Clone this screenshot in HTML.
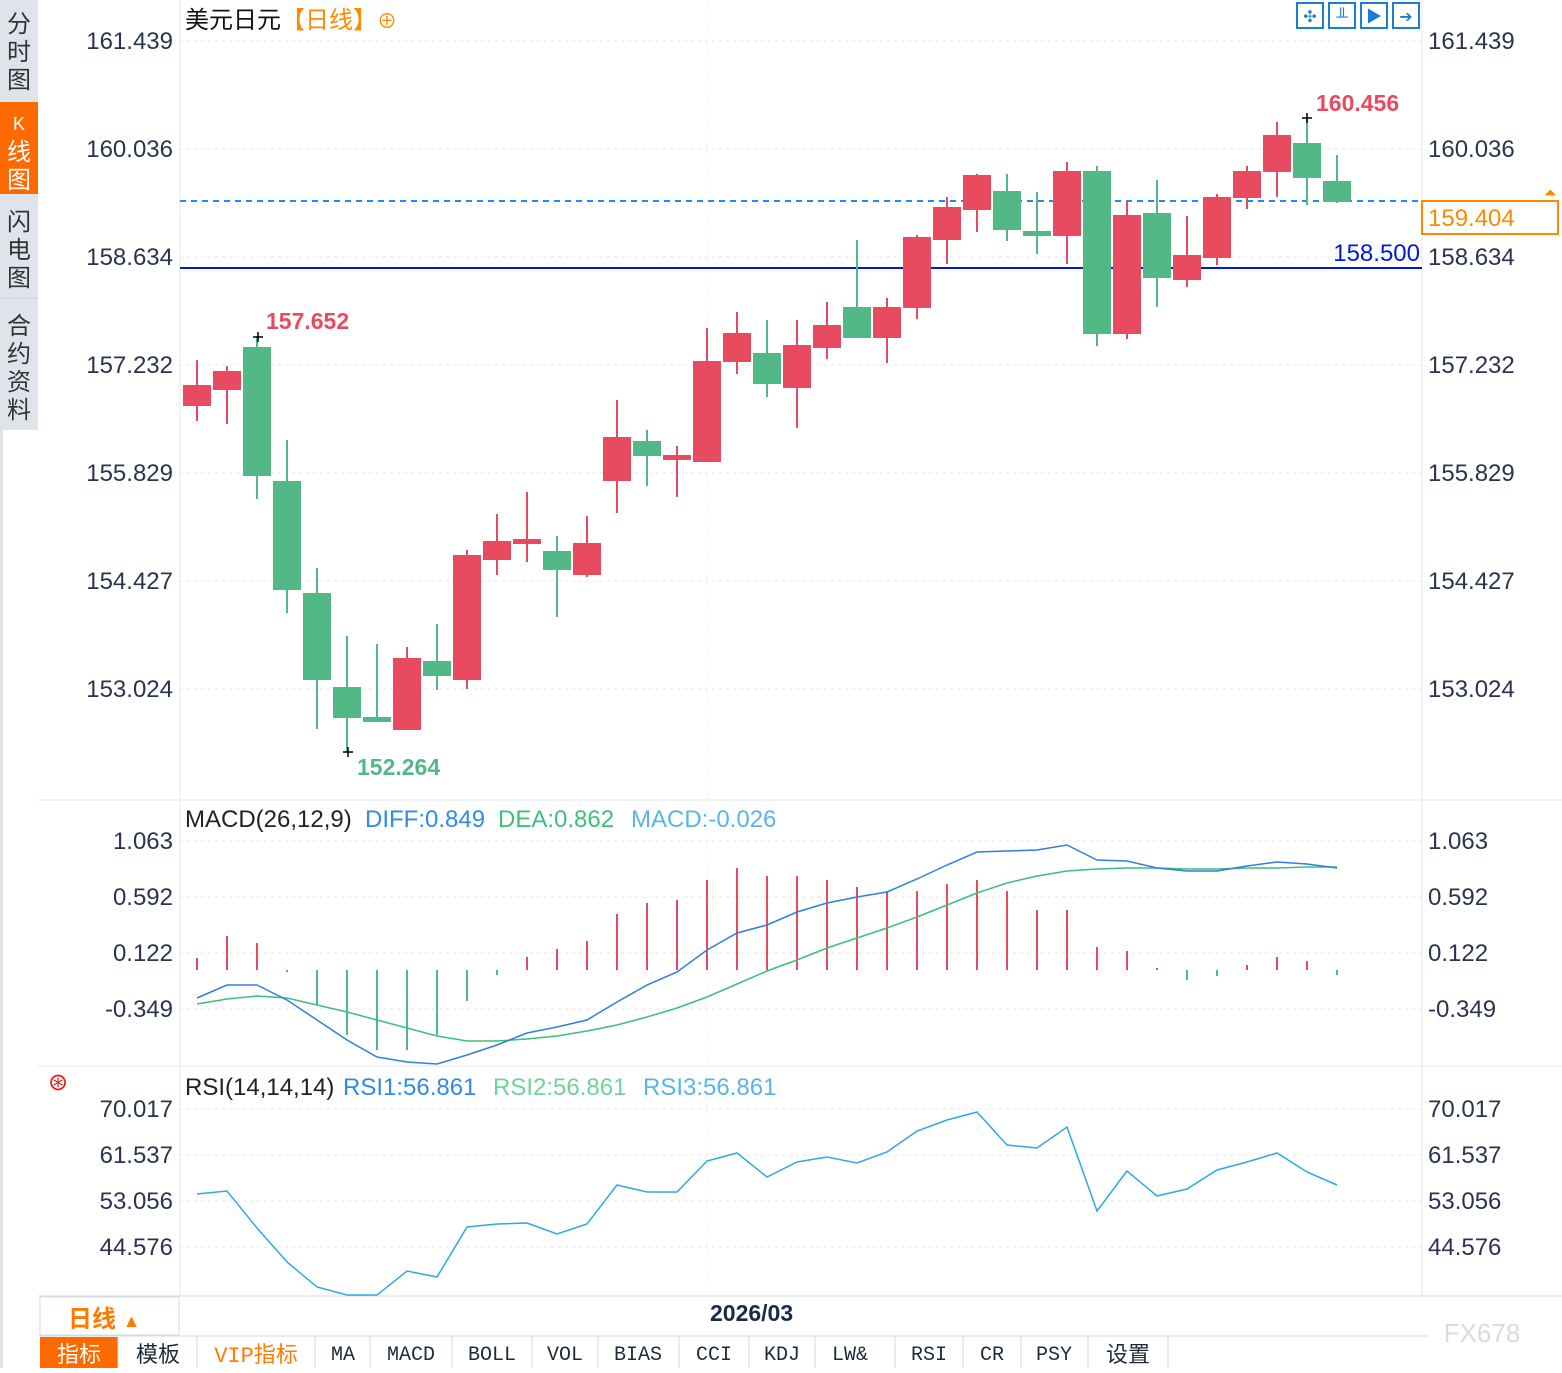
<!DOCTYPE html>
<html><head><meta charset="utf-8"><style>
body{margin:0;background:#fff;width:1562px;height:1368px;overflow:hidden;font-family:"Liberation Sans","Noto Sans CJK SC",sans-serif}
</style></head><body>
<svg width="1562" height="1368" xmlns="http://www.w3.org/2000/svg" font-family="Liberation Sans, Noto Sans CJK SC, sans-serif">
<rect x="0" y="0" width="38" height="1368" fill="#dfe3ea"/>
<rect x="3" y="430" width="35" height="938" fill="#fff"/>
<rect x="0" y="102" width="38" height="92" fill="#ff6a00"/>
<line x1="0" y1="298" x2="38" y2="298" stroke="#c8ced8"/>
<g font-size="24" fill="#333" text-anchor="middle">
<text x="19" y="32">分</text><text x="19" y="60">时</text><text x="19" y="88">图</text>
<text x="19" y="130" fill="#fff" font-size="18">K</text><text x="19" y="160" fill="#fff">线</text><text x="19" y="188" fill="#fff">图</text>
<text x="19" y="230">闪</text><text x="19" y="258">电</text><text x="19" y="286">图</text>
<text x="19" y="334">合</text><text x="19" y="362">约</text><text x="19" y="390">资</text><text x="19" y="418">料</text>
</g>
<line x1="38" y1="800" x2="1562" y2="800" stroke="#e3e7ee"/>
<line x1="38" y1="1066" x2="1562" y2="1066" stroke="#e3e7ee"/>
<line x1="38" y1="1296" x2="1562" y2="1296" stroke="#d5dae2"/>
<line x1="180" y1="0" x2="180" y2="1296" stroke="#e3e7ee"/>
<line x1="1422" y1="0" x2="1422" y2="1296" stroke="#e3e7ee"/>
<line x1="707" y1="0" x2="707" y2="1296" stroke="#eef0f4" stroke-dasharray="3,3"/>
<g stroke="#e3e6ea" stroke-dasharray="3,4">
<line x1="180" y1="41" x2="1422" y2="41"/><line x1="180" y1="149" x2="1422" y2="149"/><line x1="180" y1="257" x2="1422" y2="257"/><line x1="180" y1="365" x2="1422" y2="365"/><line x1="180" y1="473" x2="1422" y2="473"/><line x1="180" y1="581" x2="1422" y2="581"/><line x1="180" y1="689" x2="1422" y2="689"/>
<line x1="180" y1="841" x2="1422" y2="841"/><line x1="180" y1="897" x2="1422" y2="897"/><line x1="180" y1="953" x2="1422" y2="953"/><line x1="180" y1="1009" x2="1422" y2="1009"/>
<line x1="180" y1="1109" x2="1422" y2="1109"/><line x1="180" y1="1155" x2="1422" y2="1155"/><line x1="180" y1="1201" x2="1422" y2="1201"/><line x1="180" y1="1247" x2="1422" y2="1247"/>
</g>
<g font-size="24" fill="#2a3450" text-anchor="end">
<text x="173" y="49">161.439</text><text x="173" y="157">160.036</text><text x="173" y="265">158.634</text><text x="173" y="373">157.232</text><text x="173" y="481">155.829</text><text x="173" y="589">154.427</text><text x="173" y="697">153.024</text>
<text x="173" y="849">1.063</text><text x="173" y="905">0.592</text><text x="173" y="961">0.122</text><text x="173" y="1017">-0.349</text>
<text x="173" y="1117">70.017</text><text x="173" y="1163">61.537</text><text x="173" y="1209">53.056</text><text x="173" y="1255">44.576</text>
</g>
<g font-size="24" fill="#2a3450">
<text x="1428" y="49">161.439</text><text x="1428" y="157">160.036</text><text x="1428" y="265">158.634</text><text x="1428" y="373">157.232</text><text x="1428" y="481">155.829</text><text x="1428" y="589">154.427</text><text x="1428" y="697">153.024</text>
<text x="1428" y="849">1.063</text><text x="1428" y="905">0.592</text><text x="1428" y="961">0.122</text><text x="1428" y="1017">-0.349</text>
<text x="1428" y="1117">70.017</text><text x="1428" y="1163">61.537</text><text x="1428" y="1209">53.056</text><text x="1428" y="1255">44.576</text>
</g>
<text x="185" y="28" font-size="24" fill="#111">美元日元<tspan fill="#ff8a00">【日线】</tspan><tspan fill="#ff8a00" font-size="20">⊕</tspan></text>
<g fill="none" stroke="#1a7fd0" stroke-width="2">
<rect x="1297" y="3" width="26" height="25"/><rect x="1329" y="3" width="26" height="25"/><rect x="1361" y="3" width="26" height="25"/><rect x="1393" y="3" width="26" height="25"/>
</g>
<g fill="#1a7fd0" font-size="16" text-anchor="middle"><text x="1310" y="22">✣</text><text x="1342" y="22">╨</text><text x="1374" y="22">▶</text><text x="1406" y="22">➔</text></g>
<line x1="180" y1="201" x2="1422" y2="201" stroke="#1a8cff" stroke-width="2" stroke-dasharray="6,5"/>
<line x1="180" y1="268" x2="1422" y2="268" stroke="#0018e0" stroke-width="2"/>
<text x="1420" y="261" font-size="24" fill="#0018e0" text-anchor="end">158.500</text>
<rect x="1422" y="201" width="136" height="33" fill="#fff" stroke="#ff8a00" stroke-width="2"/>
<text x="1428" y="226" font-size="24" fill="#ff8a00">159.404</text>
<text x="1550" y="198" font-size="16" fill="#ff8a00" text-anchor="middle">⏶</text>
<g stroke-width="2">
<g stroke="#e84a5f" fill="#e84a5f">
<line x1="197" y1="360" x2="197" y2="421"/><rect x="184" y="386" width="26" height="19"/>
<line x1="227" y1="366" x2="227" y2="424"/><rect x="214" y="372" width="26" height="17"/>
<line x1="407" y1="647" x2="407" y2="729"/><rect x="394" y="659" width="26" height="70"/>
<line x1="467" y1="550" x2="467" y2="689"/><rect x="454" y="556" width="26" height="123"/>
<line x1="497" y1="514" x2="497" y2="575"/><rect x="484" y="542" width="26" height="17"/>
<line x1="527" y1="492" x2="527" y2="562"/><rect x="514" y="540" width="26" height="3"/>
<line x1="587" y1="516" x2="587" y2="577"/><rect x="574" y="544" width="26" height="30"/>
<line x1="617" y1="400" x2="617" y2="513"/><rect x="604" y="438" width="26" height="42"/>
<line x1="677" y1="446" x2="677" y2="497"/><rect x="664" y="456" width="26" height="3"/>
<line x1="707" y1="328" x2="707" y2="462"/><rect x="694" y="362" width="26" height="99"/>
<line x1="737" y1="312" x2="737" y2="374"/><rect x="724" y="334" width="26" height="27"/>
<line x1="797" y1="320" x2="797" y2="428"/><rect x="784" y="346" width="26" height="41"/>
<line x1="827" y1="302" x2="827" y2="359"/><rect x="814" y="326" width="26" height="21"/>
<line x1="887" y1="298" x2="887" y2="363"/><rect x="874" y="308" width="26" height="29"/>
<line x1="917" y1="235" x2="917" y2="319"/><rect x="904" y="238" width="26" height="69"/>
<line x1="947" y1="197" x2="947" y2="264"/><rect x="934" y="208" width="26" height="31"/>
<line x1="977" y1="174" x2="977" y2="232"/><rect x="964" y="176" width="26" height="33"/>
<line x1="1067" y1="162" x2="1067" y2="264"/><rect x="1054" y="172" width="26" height="63"/>
<line x1="1127" y1="202" x2="1127" y2="339"/><rect x="1114" y="216" width="26" height="117"/>
<line x1="1187" y1="216" x2="1187" y2="287"/><rect x="1174" y="256" width="26" height="23"/>
<line x1="1217" y1="194" x2="1217" y2="265"/><rect x="1204" y="198" width="26" height="59"/>
<line x1="1247" y1="166" x2="1247" y2="209"/><rect x="1234" y="172" width="26" height="25"/>
<line x1="1277" y1="122" x2="1277" y2="197"/><rect x="1264" y="136" width="26" height="35"/>
</g>
<g stroke="#52b986" fill="#52b986">
<line x1="257" y1="336" x2="257" y2="499"/><rect x="244" y="348" width="26" height="127"/>
<line x1="287" y1="440" x2="287" y2="613"/><rect x="274" y="482" width="26" height="107"/>
<line x1="317" y1="568" x2="317" y2="729"/><rect x="304" y="594" width="26" height="85"/>
<line x1="347" y1="636" x2="347" y2="752"/><rect x="334" y="688" width="26" height="29"/>
<line x1="377" y1="644" x2="377" y2="722"/><rect x="364" y="718" width="26" height="3"/>
<line x1="437" y1="624" x2="437" y2="690"/><rect x="424" y="662" width="26" height="13"/>
<line x1="557" y1="536" x2="557" y2="617"/><rect x="544" y="552" width="26" height="17"/>
<line x1="647" y1="430" x2="647" y2="486"/><rect x="634" y="442" width="26" height="13"/>
<line x1="767" y1="320" x2="767" y2="397"/><rect x="754" y="354" width="26" height="29"/>
<line x1="857" y1="240" x2="857" y2="337"/><rect x="844" y="308" width="26" height="29"/>
<line x1="1007" y1="174" x2="1007" y2="241"/><rect x="994" y="192" width="26" height="37"/>
<line x1="1037" y1="192" x2="1037" y2="254"/><rect x="1024" y="232" width="26" height="3"/>
<line x1="1097" y1="166" x2="1097" y2="346"/><rect x="1084" y="172" width="26" height="161"/>
<line x1="1157" y1="180" x2="1157" y2="307"/><rect x="1144" y="214" width="26" height="63"/>
<line x1="1307" y1="118" x2="1307" y2="205"/><rect x="1294" y="144" width="26" height="33"/>
<line x1="1337" y1="155" x2="1337" y2="203"/><rect x="1324" y="182" width="26" height="19"/>
</g>
</g>
<g stroke="#000" stroke-width="1.5"><line x1="253" y1="337" x2="263" y2="337"/><line x1="258" y1="332" x2="258" y2="342"/><line x1="343" y1="752" x2="353" y2="752"/><line x1="348" y1="747" x2="348" y2="757"/><line x1="1302" y1="118" x2="1312" y2="118"/><line x1="1307" y1="113" x2="1307" y2="123"/></g>
<g font-size="23" font-weight="bold"><text x="266" y="329" fill="#e84a5f">157.652</text><text x="357" y="775" fill="#52b986">152.264</text><text x="1316" y="111" fill="#e84a5f">160.456</text></g>
<text x="185" y="827" font-size="24" fill="#222" xml:space="preserve">MACD(26,12,9) <tspan x="365" fill="#2e8be6">DIFF:0.849</tspan><tspan x="498" fill="#3cbf7a">DEA:0.862</tspan><tspan x="631" fill="#5ab4ea">MACD:-0.026</tspan></text>
<g stroke-width="2" stroke="#e84a5f">
<line x1="197" y1="970" x2="197" y2="958"/><line x1="227" y1="970" x2="227" y2="936"/><line x1="257" y1="970" x2="257" y2="943"/>
<line x1="527" y1="970" x2="527" y2="957"/><line x1="557" y1="970" x2="557" y2="949"/><line x1="587" y1="970" x2="587" y2="941"/><line x1="617" y1="970" x2="617" y2="914"/><line x1="647" y1="970" x2="647" y2="903"/><line x1="677" y1="970" x2="677" y2="900"/><line x1="707" y1="970" x2="707" y2="880"/><line x1="737" y1="970" x2="737" y2="868"/><line x1="767" y1="970" x2="767" y2="876"/><line x1="797" y1="970" x2="797" y2="876"/><line x1="827" y1="970" x2="827" y2="880"/><line x1="857" y1="970" x2="857" y2="887"/><line x1="887" y1="970" x2="887" y2="891"/><line x1="917" y1="970" x2="917" y2="891"/><line x1="947" y1="970" x2="947" y2="884"/><line x1="977" y1="970" x2="977" y2="880"/><line x1="1007" y1="970" x2="1007" y2="891"/><line x1="1037" y1="970" x2="1037" y2="910"/><line x1="1067" y1="970" x2="1067" y2="910"/><line x1="1097" y1="970" x2="1097" y2="947"/><line x1="1127" y1="970" x2="1127" y2="951"/><line x1="1157" y1="970" x2="1157" y2="968"/><line x1="1247" y1="970" x2="1247" y2="965"/><line x1="1277" y1="970" x2="1277" y2="957"/><line x1="1307" y1="970" x2="1307" y2="961"/>
</g>
<g stroke-width="2" stroke="#52b986">
<line x1="287" y1="970" x2="287" y2="972"/><line x1="317" y1="970" x2="317" y2="1005"/><line x1="347" y1="970" x2="347" y2="1035"/><line x1="377" y1="970" x2="377" y2="1050"/><line x1="407" y1="970" x2="407" y2="1050"/><line x1="437" y1="970" x2="437" y2="1035"/><line x1="467" y1="970" x2="467" y2="1001"/><line x1="497" y1="970" x2="497" y2="975"/><line x1="1187" y1="970" x2="1187" y2="980"/><line x1="1217" y1="970" x2="1217" y2="976"/><line x1="1337" y1="970" x2="1337" y2="975"/>
</g>
<polyline fill="none" stroke="#3cbf7a" stroke-width="1.5" points="197,1004 227,999 257,996 287,998 317,1005 347,1012 377,1020 407,1028 437,1036 467,1041 497,1041 527,1039 557,1036 587,1031 617,1025 647,1017 677,1008 707,997 737,984 767,971 797,960 827,948 857,938 887,928 917,917 947,905 977,893 1007,883 1037,876 1067,871 1097,869 1127,868 1157,868 1187,869 1217,869 1247,868 1277,868 1307,867 1337,867"/>
<polyline fill="none" stroke="#2e7fe0" stroke-width="1.5" points="197,998 227,985 257,985 287,1000 317,1020 347,1040 377,1057 407,1062 437,1064 467,1055 497,1045 527,1033 557,1027 587,1020 617,1002 647,985 677,972 707,950 737,933 767,925 797,912 827,903 857,897 887,892 917,879 947,865 977,852 1007,851 1037,850 1067,845 1097,860 1127,861 1157,868 1187,871 1217,871 1247,866 1277,862 1307,864 1337,868"/>
<text x="58" y="1090" font-size="24" fill="#e02020" text-anchor="middle">⊛</text>
<text x="185" y="1095" font-size="24" fill="#222">RSI(14,14,14) <tspan x="343" fill="#2e8be6">RSI1:56.861</tspan><tspan x="493" fill="#6fd39a">RSI2:56.861</tspan><tspan x="643" fill="#5ab4ea">RSI3:56.861</tspan></text>
<polyline fill="none" stroke="#2ea8e6" stroke-width="1.5" points="197,1194 227,1191 257,1228 287,1262 317,1287 347,1295 377,1295 407,1271 437,1277 467,1227 497,1224 527,1223 557,1234 587,1224 617,1185 647,1192 677,1192 707,1161 737,1153 767,1177 797,1162 827,1157 857,1163 887,1152 917,1131 947,1120 977,1112 1007,1145 1037,1148 1067,1127 1097,1211 1127,1171 1157,1196 1187,1189 1217,1170 1247,1162 1277,1153 1307,1172 1337,1185"/>
<rect x="40" y="1297" width="139" height="38" fill="#fff" stroke="#d5dae2"/>
<text x="68" y="1327" font-size="24" fill="#ff7a00" font-weight="bold">日线 <tspan font-size="18">▲</tspan></text>
<text x="710" y="1321" font-size="23" fill="#1a2a4a" font-weight="bold">2026/03</text>
<rect x="38" y="1336" width="1390" height="32" fill="#fff"/>
<line x1="38" y1="1336" x2="1428" y2="1336" stroke="#d5dae2"/>
<rect x="40" y="1337" width="78" height="31" fill="#ff6a00"/>
<g stroke="#d5dae2"><line x1="118" y1="1336" x2="118" y2="1368"/><line x1="197" y1="1336" x2="197" y2="1368"/><line x1="315" y1="1336" x2="315" y2="1368"/><line x1="370" y1="1336" x2="370" y2="1368"/><line x1="452" y1="1336" x2="452" y2="1368"/><line x1="532" y1="1336" x2="532" y2="1368"/><line x1="598" y1="1336" x2="598" y2="1368"/><line x1="679" y1="1336" x2="679" y2="1368"/><line x1="749" y1="1336" x2="749" y2="1368"/><line x1="815" y1="1336" x2="815" y2="1368"/><line x1="895" y1="1336" x2="895" y2="1368"/><line x1="963" y1="1336" x2="963" y2="1368"/><line x1="1021" y1="1336" x2="1021" y2="1368"/><line x1="1088" y1="1336" x2="1088" y2="1368"/><line x1="1168" y1="1336" x2="1168" y2="1368"/></g>
<g font-size="22" fill="#1e2a3a" text-anchor="middle" font-family="Liberation Mono, Noto Sans CJK SC, monospace">
<text x="79" y="1362" fill="#fff">指标</text><text x="158" y="1362">模板</text><text x="256" y="1362" fill="#ff7a00">VIP指标</text><text x="343" y="1360" font-size="20">MA</text><text x="411" y="1360" font-size="20">MACD</text><text x="492" y="1360" font-size="20">BOLL</text><text x="565" y="1360" font-size="20">VOL</text><text x="638" y="1360" font-size="20">BIAS</text><text x="714" y="1360" font-size="20">CCI</text><text x="782" y="1360" font-size="20">KDJ</text><text x="850" y="1360" font-size="20">LW&amp;</text><text x="929" y="1360" font-size="20">RSI</text><text x="992" y="1360" font-size="20">CR</text><text x="1054" y="1360" font-size="20">PSY</text><text x="1128" y="1362">设置</text>
</g>
<text x="1482" y="1342" font-size="26" fill="#d8dce2" text-anchor="middle">FX678</text>
</svg>
</body></html>
